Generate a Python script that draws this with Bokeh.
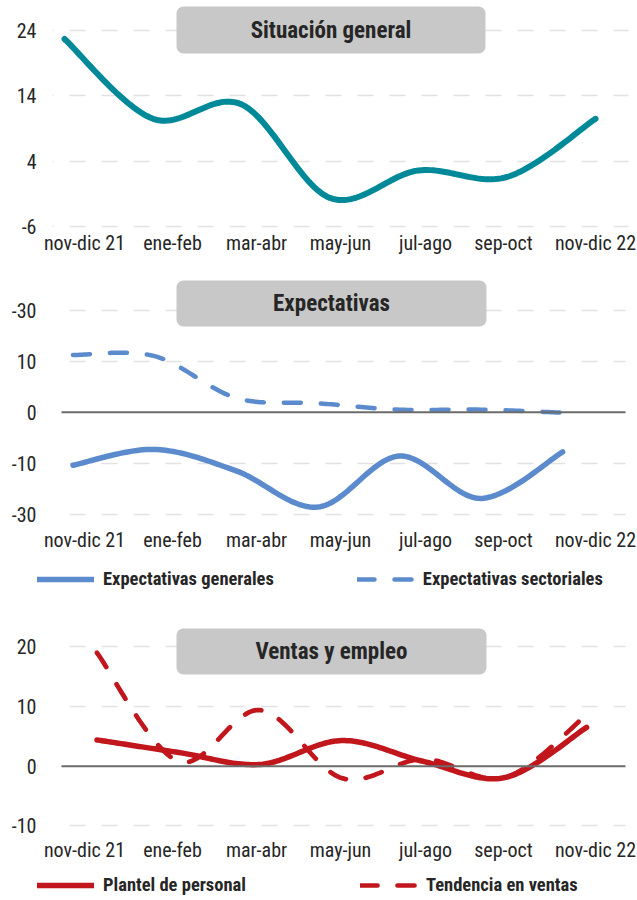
import numpy as np
from bokeh.plotting import figure
from bokeh.layouts import column
from bokeh.models import (Range1d, FixedTicker, Span, BoxAnnotation, Label,
                          Legend, LegendItem)
from bokeh.embed import file_html
from bokeh.resources import INLINE

# ---------------- data ----------------
periods = ["nov-dic 21", "ene-feb", "mar-abr", "may-jun", "jul-ago", "sep-oct", "nov-dic 22"]

situacion_general = [22.7, 10.5, 12.7, -1.6, 2.6, 1.6, 10.5]

expectativas_generales = [-10.4, -7.3, -11.5, -18.6, -8.6, -16.9, -7.8]
expectativas_sectoriales = [11.2, 11.0, 2.8, 1.75, 0.5, 0.5, -0.1]

plantel_personal = [4.4, 2.3, 0.3, 4.3, 0.8, -1.9, 6.5]
tendencia_ventas = [19.0, 0.8, 9.4, -2.0, 1.2, -1.9, 8.6]

ticks1 = [-6, 4, 14, 24]
tick_labels1 = {-6: "-6", 4: "4", 14: "14", 24: "24"}
ticks2 = [-20, -10, 0, 10, 20]
tick_labels2 = {20: "-30", 10: "10", 0: "0", -10: "-10", -20: "-30"}
ticks3 = [-10, 0, 10, 20]
tick_labels3 = {-10: "-10", 0: "0", 10: "10", 20: "20"}

titles = ["Situación general", "Expectativas", "Ventas y empleo"]
legend2 = ["Expectativas generales", "Expectativas sectoriales"]
legend3 = ["Plantel de personal", "Tendencia en ventas"]

# ---------------- layout / style ----------------
FONT = "Roboto Condensed, Roboto"
TXT = "#262626"
TEAL = "#008a99"
BLUE = "#5b8bcd"
RED = "#c0161c"
GRID = "#e2e2e2"
ZERO = "#6b6b6b"
BOX = "#c8c8c8"
W = 637
FL, FR = 37, 637          # frame left / right (page px), same for all panels
LAB0, LAB_STEP = 84.0, 85.3                       # label coordinate system
LABEL_PX = [84, 172, 256, 340, 425, 503, 595]     # where the period labels sit (px)


def smooth(ys, n=30):
    """Excel-like smoothed line (cubic Bezier through the points)."""
    y = np.asarray(ys, float)
    x = np.arange(len(y), dtype=float)
    P = np.column_stack([x, y])
    ext = np.vstack([P[0], P, P[-1]])
    out = []
    for k in range(len(P) - 1):
        p0, p1, p2, p3 = ext[k], ext[k + 1], ext[k + 2], ext[k + 3]
        c1 = p1 + (p2 - p0) / 6.0
        c2 = p2 - (p3 - p1) / 6.0
        t = np.linspace(0, 1, n, endpoint=(k == len(P) - 2))[:, None]
        out.append((1 - t) ** 3 * p1 + 3 * (1 - t) ** 2 * t * c1
                   + 3 * (1 - t) * t ** 2 * c2 + t ** 3 * p2)
    pts = np.vstack(out)
    return pts[:, 0], pts[:, 1]


def make_panel(spec):
    top0, H = spec["fig_top"], spec["height"]
    FT, FB = top0, top0 + H                      # frame fills the figure height
    ypx0, v0, ppu = spec["ymap"]                 # page px ypx0 <-> value v0, px per unit
    ye = v0 + (ypx0 - FT) / ppu
    ys = v0 - (FB - ypx0) / ppu
    xr_lab = ((FL - LAB0) / LAB_STEP, (FR - LAB0) / LAB_STEP)
    d0, dstep = spec["data_px"]
    xr_dat = ((FL - d0) / dstep, (FR - d0) / dstep)

    p = figure(width=W, height=H, output_backend="svg", toolbar_location=None,
               title=None, x_range=Range1d(*xr_lab), y_range=Range1d(ys, ye),
               min_border_left=FL, min_border_right=W - FR,
               min_border_top=0, min_border_bottom=0)
    p.extra_x_ranges = {"data": Range1d(*xr_dat)}
    p.outline_line_color = None
    p.background_fill_color = None
    p.border_fill_color = None
    p.xgrid.visible = False

    def px2x(px):
        return xr_lab[0] + (px - FL) / (FR - FL) * (xr_lab[1] - xr_lab[0])

    def px2y(py):
        return ye - (py - FT) / (FB - FT) * (ye - ys)

    for ax in (p.xaxis[0], p.yaxis[0]):
        ax.axis_line_color = None
        ax.major_tick_line_color = None
        ax.minor_tick_line_color = None
        ax.major_tick_out = 0
        ax.major_tick_in = 0
        ax.minor_tick_out = 0
        ax.minor_tick_in = 0
        ax.major_label_text_font = FONT
        ax.major_label_text_font_size = "20px"
        ax.major_label_text_color = TXT

    xticks = [round((px - LAB0) / LAB_STEP, 4) for px in LABEL_PX]
    p.xaxis.ticker = FixedTicker(ticks=xticks)
    p.xaxis.major_label_overrides = {t: s for t, s in zip(xticks, periods)}
    p.xaxis.major_label_standoff = spec["xstand"]
    p.xaxis.fixed_location = px2y(spec["xaxis_px"])

    p.yaxis.ticker = FixedTicker(ticks=spec["ticks"])
    p.yaxis.major_label_overrides = spec["labels"]
    p.yaxis.major_label_standoff = 1

    gticks = [t for t in spec["ticks"] if not (spec["zero"] and t == 0)]
    p.ygrid.ticker = FixedTicker(ticks=gticks)
    p.ygrid.grid_line_color = GRID
    p.ygrid.grid_line_width = 1.6
    p.ygrid.grid_line_dash = "16 16"

    if spec["zero"]:
        p.add_layout(Span(location=0, dimension="width", line_color=ZERO, line_width=2))

    # white masks so that grid / zero lines start and end where the reference's do
    gl, gr, gt, gb = spec["grid_span"]
    for a, b in ((FL, gl), (gr, FR + 4)):
        p.add_layout(BoxAnnotation(left=px2x(a), right=px2x(b), top=px2y(gt), bottom=px2y(gb),
                                   fill_color="white", fill_alpha=1.0, line_color=None))

    bl, br, bt, bb = spec["box"]
    p.add_layout(BoxAnnotation(left=px2x(bl), right=px2x(br), top=px2y(bt), bottom=px2y(bb),
                               fill_color=BOX, fill_alpha=1.0, line_color=None,
                               border_radius=7))
    p.add_layout(Label(x=px2x((bl + br) / 2), y=px2y((bt + bb) / 2), text=spec["title"],
                       text_align="center", text_baseline="middle", text_font=FONT,
                       text_font_style="bold", text_font_size="23px", text_color=TXT))
    return p


def add_legend(p, items, spacing, bottom_px, fig_bottom):
    leg = Legend(items=[LegendItem(label=lab, renderers=[r]) for lab, r in items],
                 location=(0, fig_bottom - bottom_px), orientation="horizontal",
                 glyph_width=57, glyph_height=20, label_standoff=9, spacing=spacing,
                 padding=0, margin=0, label_text_font=FONT, label_text_font_style="bold",
                 label_text_font_size="18.5px", label_text_color=TXT,
                 background_fill_alpha=0, border_line_color=None)
    p.add_layout(leg)


# ---------------- panel 1 ----------------
s1 = dict(fig_top=0, height=268, ymap=(30.0, 24, 6.54),
          data_px=(64.0, 88.5), ticks=ticks1, labels=tick_labels1, zero=False,
          xaxis_px=228, xstand=2, grid_span=(52, 628, 15, 231),
          box=(176, 485, 6, 53), title=titles[0])
p1 = make_panel(s1)
x, y = smooth(situacion_general)
p1.line(x, y, x_range_name="data", line_color=TEAL, line_width=6,
        line_cap="round", line_join="round")

# ---------------- panel 2 ----------------
s2 = dict(fig_top=268, height=344, ymap=(411.7, 0, 5.1),
          data_px=(72.5, 81.6), ticks=ticks2, labels=tick_labels2, zero=True,
          xaxis_px=520, xstand=7, grid_span=(61, 625, 295, 520),
          box=(176, 486, 280, 326), title=titles[1])
p2 = make_panel(s2)
x, y = smooth(expectativas_generales)
r21 = p2.line(x, y, x_range_name="data", line_color=BLUE, line_width=5.5,
              line_cap="round", line_join="round")
x, y = smooth(expectativas_sectoriales)
r22 = p2.line(x, y, x_range_name="data", line_color=BLUE, line_width=4.5,
              line_dash="17 20", line_cap="round", line_join="round")
add_legend(p2, [(legend2[0], r21), (legend2[1], r22)], spacing=83,
           bottom_px=590, fig_bottom=612)

# ---------------- panel 3 ----------------
s3 = dict(fig_top=612, height=288, ymap=(765.7, 0, 5.97),
          data_px=(96.5, 81.6), ticks=ticks3, labels=tick_labels3, zero=True,
          xaxis_px=830, xstand=7, grid_span=(61, 625, 635, 832),
          box=(176, 486, 628, 674), title=titles[2])
p3 = make_panel(s3)
x, y = smooth(plantel_personal)
r31 = p3.line(x, y, x_range_name="data", line_color=RED, line_width=5.5,
              line_cap="round", line_join="round")
x, y = smooth(tendencia_ventas)
r32 = p3.line(x, y, x_range_name="data", line_color=RED, line_width=4.7,
              line_dash="17 20", line_cap="round", line_join="round")
add_legend(p3, [(legend3[0], r31), (legend3[1], r32)], spacing=114,
           bottom_px=896, fig_bottom=900)

layout = column(p1, p2, p3, spacing=0)
open("out.html", "w").write(file_html(layout, INLINE))
